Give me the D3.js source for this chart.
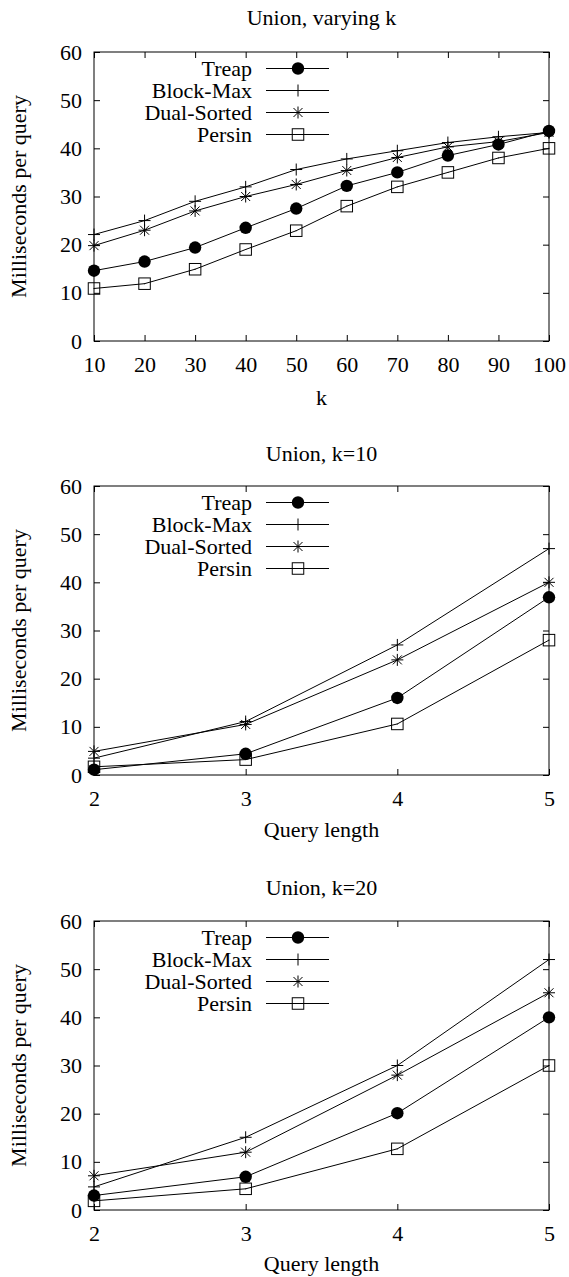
<!DOCTYPE html>
<html>
  <head>
    <script src="https://d3js.org/d3.v7.min.js"></script>
    <style>
      body { margin: 0; background: #fff; }
      svg text { font-family: "Liberation Serif", "Times New Roman", Times, serif; fill: #000; }
    </style>
  </head>
  <body>
    <div id="chart"></div>
    <script>
      // Series names and tick labels
      const seriesNames = ["Treap", "Block-Max", "Dual-Sorted", "Persin"];
      const yTicks = [0, 10, 20, 30, 40, 50, 60];

      // Panel 1: varying k
      const kValues = [10, 20, 30, 40, 50, 60, 70, 80, 90, 100];
      const treapK = [14.6, 16.5, 19.4, 23.5, 27.5, 32.2, 35.0, 38.5, 40.8, 43.6];
      const blockMaxK = [22.1, 25.0, 29.0, 32.0, 35.6, 37.8, 39.5, 41.2, 42.4, 43.3];
      const dualSortedK = [19.8, 23.0, 27.0, 30.0, 32.5, 35.4, 38.1, 40.3, 41.4, 43.3];
      const persinK = [10.9, 11.9, 14.9, 19.0, 22.9, 28.0, 32.0, 35.0, 38.0, 40.0];

      // Panels 2 and 3: query length
      const queryLengths = [2, 3, 4, 5];
      const treapQ10 = [1.1, 4.4, 16.0, 36.9];
      const blockMaxQ10 = [3.5, 11.1, 27.0, 47.0];
      const dualSortedQ10 = [4.9, 10.5, 23.9, 40.0];
      const persinQ10 = [1.7, 3.2, 10.6, 28.0];

      const treapQ20 = [3.0, 6.9, 20.1, 40.0];
      const blockMaxQ20 = [4.8, 15.1, 30.0, 52.0];
      const dualSortedQ20 = [7.1, 12.0, 28.0, 45.1];
      const persinQ20 = [1.9, 4.4, 12.7, 30.0];

      const panels = [
        { title: "Union, varying k", xLabel: "k", xs: kValues,
          series: [treapK, blockMaxK, dualSortedK, persinK], top: 52, titleOff: 27, labelOff: 64 },
        { title: "Union, k=10", xLabel: "Query length", xs: queryLengths,
          series: [treapQ10, blockMaxQ10, dualSortedQ10, persinQ10], top: 486, titleOff: 25, labelOff: 62 },
        { title: "Union, k=20", xLabel: "Query length", xs: queryLengths,
          series: [treapQ20, blockMaxQ20, dualSortedQ20, persinQ20], top: 921, titleOff: 26, labelOff: 61 }
      ];

      const W = 569, H = 1277;
      const left = 94, right = 549, plotH = 289;
      const ink = "#000";
      const fontSize = 22;
      const serif = '"Liberation Serif", "Times New Roman", Times, serif';

      const svg = d3.select("#chart").append("svg")
        .attr("width", W).attr("height", H)
        .attr("font-family", serif);

      // point symbols, gnuplot style
      function drawMarker(g, type, x, y) {
        if (type === 0) {
          g.append("circle").attr("cx", x).attr("cy", y).attr("r", 6.2).attr("fill", ink);
        } else if (type === 1) {
          g.append("path").attr("d", `M${x - 6},${y}H${x + 6}M${x},${y - 6}V${y + 6}`)
            .attr("stroke", ink).attr("fill", "none");
        } else if (type === 2) {
          const d = 4.5;
          g.append("path")
            .attr("d", `M${x - 6},${y}H${x + 6}M${x},${y - 6}V${y + 6}M${x - d},${y - d}L${x + d},${y + d}M${x - d},${y + d}L${x + d},${y - d}`)
            .attr("stroke", ink).attr("fill", "none");
        } else {
          g.append("rect").attr("x", x - 5.75).attr("y", y - 5.75).attr("width", 11.5).attr("height", 11.5)
            .attr("fill", "none").attr("stroke", ink);
          g.append("rect").attr("x", x - 0.5).attr("y", y - 0.5).attr("width", 1).attr("height", 1).attr("fill", ink);
        }
      }

      panels.forEach((p) => {
        const top = p.top, bottom = top + plotH;
        const x = d3.scaleLinear().domain(d3.extent(p.xs)).range([left, right]);
        const y = d3.scaleLinear().domain([0, 60]).range([bottom, top]);
        const g = svg.append("g");

        // title
        g.append("text").attr("x", (left + right) / 2).attr("y", top - p.titleOff)
          .attr("text-anchor", "middle").style("font-size", fontSize + "px").text(p.title);

        // y axis, inward ticks, mirrored on the right
        const yl = g.append("g").attr("transform", `translate(${left},0)`)
          .call(d3.axisLeft(y).tickValues(yTicks).tickSizeInner(-6).tickSizeOuter(0).tickPadding(12));
        const yr = g.append("g").attr("transform", `translate(${right},0)`)
          .call(d3.axisRight(y).tickValues(yTicks).tickSizeInner(-6).tickSizeOuter(0).tickFormat(""));
        // x axis, mirrored on top
        const xb = g.append("g").attr("transform", `translate(0,${bottom})`)
          .call(d3.axisBottom(x).tickValues(p.xs).tickFormat(d3.format("d"))
            .tickSizeInner(-6).tickSizeOuter(0).tickPadding(15));
        const xt = g.append("g").attr("transform", `translate(0,${top})`)
          .call(d3.axisTop(x).tickValues(p.xs).tickSizeInner(-6).tickSizeOuter(0).tickFormat(""));
        [yl, yr, xb, xt].forEach((a) => {
          a.attr("font-family", serif).attr("font-size", fontSize);
          a.select(".domain").remove();
          a.selectAll("line").attr("stroke", ink);
          a.selectAll("text").attr("fill", ink);
        });

        // frame
        g.append("rect").attr("x", left).attr("y", top)
          .attr("width", right - left).attr("height", plotH)
          .attr("fill", "none").attr("stroke", ink);

        // axis labels
        g.append("text").attr("x", (left + right) / 2).attr("y", bottom + p.labelOff)
          .attr("text-anchor", "middle").style("font-size", fontSize + "px").text(p.xLabel);
        g.append("text")
          .attr("transform", `translate(26,${(top + bottom) / 2}) rotate(-90)`)
          .attr("text-anchor", "middle").style("font-size", fontSize + "px").text("Milliseconds per query");

        // series
        const line = d3.line().x((d) => x(d[0])).y((d) => y(d[1]));
        p.series.forEach((vals, i) => {
          const pts = p.xs.map((xv, j) => [xv, vals[j]]);
          g.append("path").datum(pts).attr("d", line)
            .attr("fill", "none").attr("stroke", ink).attr("stroke-width", 1);
          pts.forEach((d) => drawMarker(g, i, x(d[0]), y(d[1])));
        });

        // legend
        seriesNames.forEach((name, i) => {
          const ly = top + 16.5 + i * 22;
          g.append("text").attr("x", 252).attr("y", ly).attr("dy", "0.35em")
            .attr("text-anchor", "end").style("font-size", fontSize + "px").text(name);
          g.append("line").attr("x1", 266).attr("x2", 329).attr("y1", ly).attr("y2", ly)
            .attr("stroke", ink);
          drawMarker(g, i, 298, ly);
        });
      });
    </script>
  </body>
</html>
